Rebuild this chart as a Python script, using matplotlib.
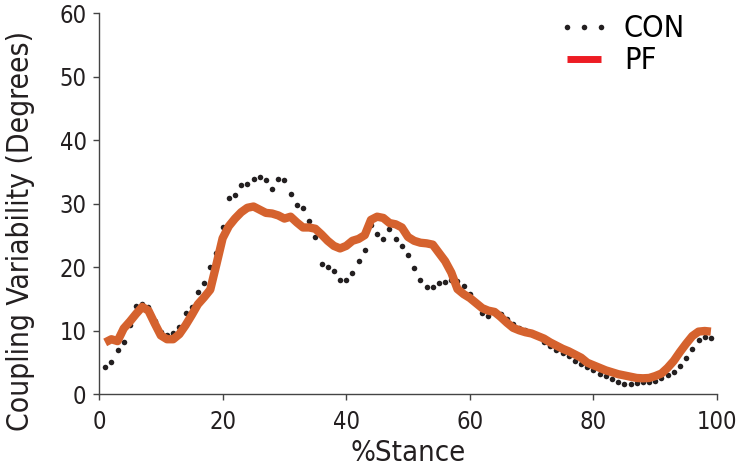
import numpy as np
import matplotlib
matplotlib.use("Agg")
import matplotlib.pyplot as plt
from matplotlib.lines import Line2D

plt.rcParams['font.family'] = ['DejaVu Sans']
plt.rcParams['font.stretch'] = 'condensed'

# % stance, 1..99
stance = np.arange(1, 100)

con = [4.4, 5.1, 7.0, 8.3, 11.0, 14.0, 14.3, 13.7, 11.6, 9.8,
       9.3, 9.7, 10.7, 12.8, 13.8, 16.2, 17.5, 20.1, 22.3, 26.4,
       30.9, 31.4, 33.0, 33.2, 33.9, 34.3, 33.7, 32.4, 33.9, 33.7,
       31.6, 29.9, 29.4, 27.3, 24.8, 20.5, 20.1, 19.4, 18.1, 18.0,
       19.2, 21.0, 22.8, 26.7, 25.3, 24.5, 26.0, 24.5, 23.4, 21.9,
       19.9, 18.1, 17.0, 17.0, 17.5, 17.7, 18.0, 17.9, 17.1, 15.8,
       14.6, 12.9, 12.4, 12.8, 12.7, 11.9, 11.1, 10.5, 10.1, 9.7,
       9.2, 8.3, 7.6, 7.0, 6.5, 6.0, 5.3, 4.8, 4.3, 3.8,
       3.3, 2.9, 2.5, 2.0, 1.7, 1.6, 1.8, 1.9, 2.0, 2.2,
       2.6, 3.0, 3.6, 4.5, 5.7, 7.2, 8.6, 9.1, 8.9]

pf = [8.2, 8.7, 8.4, 10.4, 11.5, 12.7, 13.8, 13.2, 11.2, 9.3,
      8.7, 8.7, 9.5, 10.9, 12.5, 14.2, 15.3, 16.5, 20.5, 24.6,
      26.5, 27.7, 28.7, 29.4, 29.6, 29.1, 28.6, 28.5, 28.2, 27.7,
      28.0, 27.1, 26.3, 26.3, 26.1, 25.2, 24.2, 23.4, 23.0, 23.4,
      24.2, 24.5, 25.1, 27.5, 28.0, 27.8, 27.0, 26.8, 26.3, 24.8,
      24.2, 23.9, 23.8, 23.6, 22.3, 21.0, 19.2, 16.6, 15.8, 15.2,
      14.4, 13.6, 13.2, 13.0, 12.2, 11.3, 10.5, 10.1, 9.8, 9.6,
      9.2, 8.8, 8.2, 7.7, 7.2, 6.8, 6.3, 5.8, 5.0, 4.6,
      4.2, 3.8, 3.5, 3.2, 3.0, 2.8, 2.6, 2.55, 2.6, 2.9,
      3.3, 4.2, 5.3, 6.7, 8.0, 9.2, 9.9, 10.0, 9.9]

xticks = [0, 20, 40, 60, 80, 100]
yticks = [0, 10, 20, 30, 40, 50, 60]

dot_col = '#231f20'
pf_col = '#d5622e'
axis_col = '#444444'

fig = plt.figure(figsize=(7.4, 4.73), dpi=100)
ax = fig.add_axes([0.1338, 0.166, 0.8352, 0.8055])

ax.plot(stance, con, ls='none', marker='o', ms=4, color=dot_col,
        mec='none', zorder=2)
ax.plot(stance, pf, color=pf_col, lw=6, solid_joinstyle='round',
        solid_capstyle='butt', zorder=3)

ax.set_xlim(0, 100)
ax.set_ylim(0, 60)
ax.set_xticks(xticks)
ax.set_yticks(yticks)

for s in ['top', 'right']:
    ax.spines[s].set_visible(False)
for s in ['left', 'bottom']:
    ax.spines[s].set_color(axis_col)
    ax.spines[s].set_linewidth(1.0)

ax.tick_params(axis='both', direction='out', length=4, width=1.0,
               color=axis_col, labelsize=17, labelcolor='#231f20')
ax.tick_params(axis='x', pad=7)
ax.tick_params(axis='y', pad=5)

ax.set_xlabel('%Stance', fontsize=21, color='#231f20', labelpad=4)
ax.set_ylabel('Coupling Variability (Degrees)', fontsize=21.5,
              color='#231f20')
ax.yaxis.set_label_coords(-0.104, 0.43)

handles = [
    Line2D([], [], ls='none', marker='o', ms=4, color=dot_col, mec='none'),
    Line2D([], [], color='#ed1c24', lw=5, solid_capstyle='butt'),
]
ax.legend(handles, ['CON', 'PF'], loc='upper right', frameon=False,
          fontsize=22, numpoints=3, handlelength=1.7, handletextpad=0.45,
          labelspacing=0.1, borderaxespad=0.0,
          bbox_to_anchor=(0.968, 1.03))

fig.savefig('out.png', dpi=100)
